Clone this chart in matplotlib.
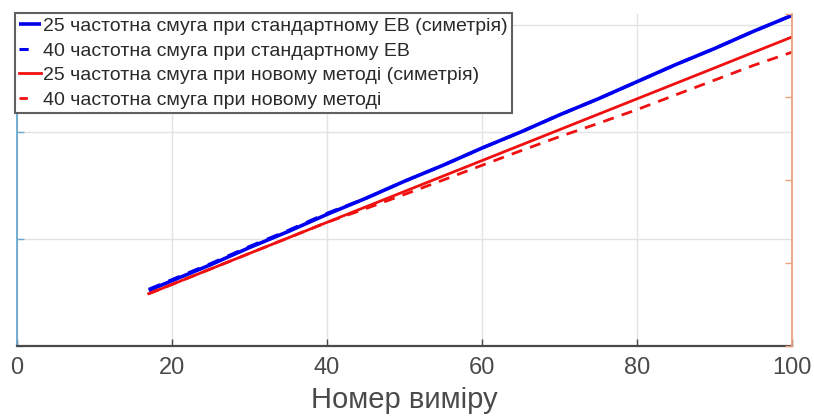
import matplotlib
matplotlib.use("Agg")
import matplotlib.pyplot as plt

plt.rcParams['font.family'] = ['Liberation Sans', 'DejaVu Sans']

# Measurement index
measurement = [17, 20, 25, 30, 35, 40, 45, 50, 55, 60, 65, 70, 75, 80, 85, 90, 95, 100]

# Standard EV (left axis)
std_sym_25 = [0.52, 0.61, 0.76, 0.92, 1.07, 1.23, 1.38, 1.54, 1.69, 1.85, 2.00, 2.16, 2.31, 2.47, 2.63, 2.78, 2.94, 3.09]
std_40 = [0.53, 0.62, 0.77, 0.93, 1.08, 1.24, 1.38, 1.54, 1.69, 1.85, 2.00, 2.16, 2.31, 2.47, 2.63, 2.78, 2.94, 3.09]

# New method (right axis)
new_sym_25 = [0.63, 0.742, 0.929, 1.116, 1.303, 1.490, 1.676, 1.862, 2.048, 2.234, 2.420, 2.606, 2.792, 2.978, 3.164, 3.350, 3.537, 3.723]
new_40 = [0.63, 0.742, 0.929, 1.116, 1.303, 1.490, 1.655, 1.826, 2.000, 2.177, 2.352, 2.522, 2.682, 2.848, 3.026, 3.203, 3.380, 3.540]

labels = [
    "25 частотна смуга при стандартному ЕВ (симетрія)",
    "40 частотна смуга при стандартному ЕВ",
    "25 частотна смуга при новому методі (симетрія)",
    "40 частотна смуга при новому методі",
]
x_ticks = [0, 20, 40, 60, 80, 100]

W, H = 814, 417
fig = plt.figure(figsize=(W / 100, H / 100), dpi=100)
ax = fig.add_axes([17 / W, 1 - 346 / H, (792 - 17) / W, (346 - 14) / H])
ax2 = ax.twinx()

left_col = "#6aa8d0"
right_col = "#eca080"
text_col = "#4a4a4a"

h1, = ax.plot(measurement, std_sym_25, color="#0000f0", lw=2.6, solid_capstyle="butt")
h2, = ax.plot(measurement, std_40, color="#0000f0", lw=2.2, ls=(0, (4, 3)))
h3, = ax2.plot(measurement, new_sym_25, color="#f01010", lw=2.0)
h4, = ax2.plot(measurement, new_40, color="#f01010", lw=2.0, ls=(0, (4, 3)))

ax.set_xlim(0, 100)
ax.set_ylim(0, 332 / 107)
ax2.set_ylim(0, 4)
ax.set_xticks(x_ticks)
ax.set_yticks([0, 1, 2, 3])
ax2.set_yticks([0, 1, 2, 3, 4])
ax.set_yticklabels([])
ax2.set_yticklabels([])

ax.grid(True, color="#e3e3e3", lw=1.0)
ax.set_axisbelow(True)

for a in (ax, ax2):
    a.spines["top"].set_visible(False)
    a.set_facecolor("none")
ax.spines["right"].set_visible(False)
ax2.spines["left"].set_visible(False)
ax2.spines["bottom"].set_visible(False)
ax.spines["left"].set_color(left_col)
ax.spines["left"].set_linewidth(1.3)
ax2.spines["right"].set_color(right_col)
ax2.spines["right"].set_linewidth(1.3)
ax.spines["bottom"].set_color("#4a4a4a")
ax.spines["bottom"].set_linewidth(1.6)

ax.tick_params(axis="x", direction="in", length=5, width=1, colors="#4a4a4a",
               labelsize=17, labelcolor=text_col, pad=8)
ax.tick_params(axis="y", direction="in", length=5, width=1, colors=left_col)
ax2.tick_params(axis="y", direction="in", length=5, width=1, colors=right_col)

ax.set_xlabel("Номер виміру", fontsize=21, color=text_col, labelpad=5)

leg = ax2.legend([h1, h2, h3, h4], labels, loc="upper left",
                 bbox_to_anchor=(15 / W, 1 - 13 / H), bbox_transform=fig.transFigure,
                 borderaxespad=0, fontsize=14.0, handlelength=1.1, handletextpad=0.1,
                 labelspacing=0.36, borderpad=0.22, fancybox=False, framealpha=1,
                 edgecolor="#606060")
leg.get_frame().set_linewidth(1.5)
for t in leg.get_texts():
    t.set_color("#2a2a2a")
# dashed entries show a single short dash
for i in (1, 3):
    leg.get_lines()[i].set_linestyle((0, (3, 20)))

fig.savefig("out.png", dpi=100)
